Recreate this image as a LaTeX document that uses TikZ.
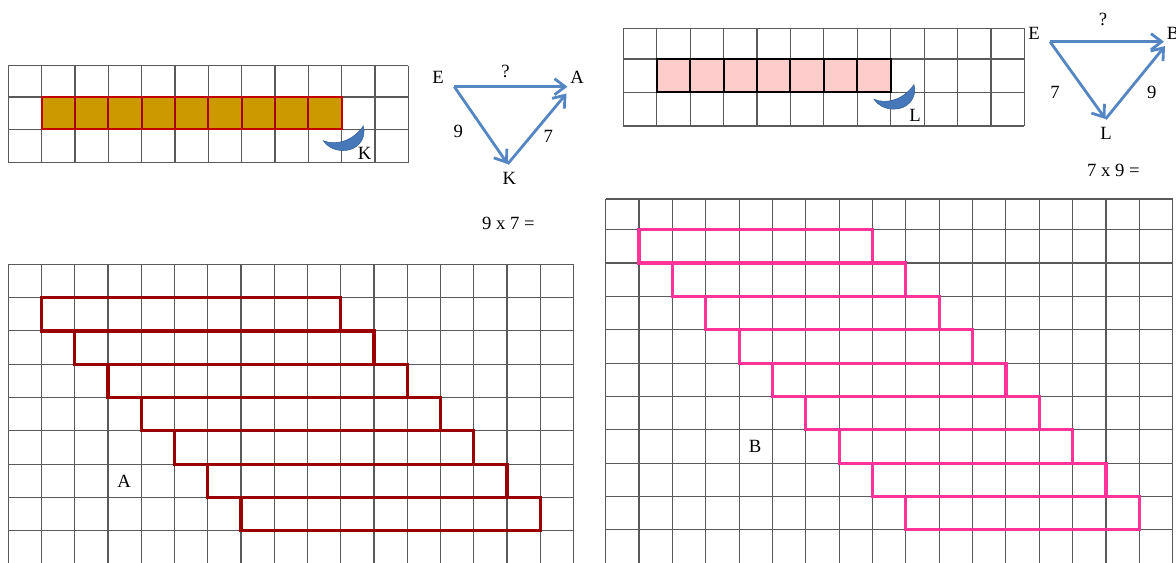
\documentclass[tikz,border=0pt]{standalone}
\usepackage{fontspec}
\setmainfont{Liberation Serif}
\usetikzlibrary{arrows.meta}
\definecolor{gridc}{RGB}{90,90,90}
\definecolor{goldf}{RGB}{204,153,0}
\definecolor{redb}{RGB}{192,0,0}
\definecolor{redi}{RGB}{165,0,0}
\definecolor{pinkf}{RGB}{255,204,204}
\definecolor{darkred}{RGB}{155,0,0}
\definecolor{hotpink}{RGB}{255,51,153}
\definecolor{arrowb}{RGB}{84,134,196}
\definecolor{moon}{RGB}{70,120,185}
\definecolor{moonedge}{RGB}{50,95,155}
\tikzset{
  gridline/.style={draw=gridc, line width=0.85pt},
  goldcell/.style={fill=goldf, draw=redi, line width=1.6pt},
  pinkcell/.style={fill=pinkf, draw=black, line width=1.5pt},
  stairA/.style={draw=darkred, line width=2.4pt},
  stairB/.style={draw=hotpink, line width=2.4pt},
  tarrow/.style={draw=arrowb, line width=2.1pt, -{Straight Barb[length=8pt,width=12pt,line width=2.1pt]}},
  lbl/.style={font=\fontsize{14}{16}\selectfont, inner sep=0pt},
  moonshape/.style={fill=moon, draw=moonedge, line width=0.4pt}
}
\begin{document}
\begin{tikzpicture}[x=0.75pt,y=-0.75pt]
\useasboundingbox (0,0) rectangle (1176,563);
\fill[white] (0,0) rectangle (1176,563);

% ---------- top-left grid ----------
\foreach \i in {0,...,12} \draw[gridline] (8.3+\i*33.33,65.7) -- (8.3+\i*33.33,162.6);
\foreach \y in {65.7,97,129.3,162.6} \draw[gridline] (8.3,\y) -- (408.3,\y);
\foreach \i in {1,...,9} \draw[goldcell] (8.3+\i*33.33,97) rectangle (8.3+\i*33.33+33.33,129.3);
\draw[redb, line width=1.6pt] (41.63,97) rectangle (341.6,129.3);
% crescent K
\path[moonshape] (323.3,140.7) .. controls (336,146) and (353,141) .. (363.3,126)
  .. controls (367,140) and (356,151) .. (343,150.5)
  .. controls (334,150.5) and (327,146.5) .. cycle;
\node[lbl] (K1lab) at (364.5,153.5) {K};

% ---------- triangle 1 ----------
\node[lbl] (E1) at (438,77.5) {E};
\node[lbl] (A1) at (577,77.5) {A};
\node[lbl] (K1) at (509.3,178) {K};
\node[lbl] (q1) at (505.5,71) {?};
\node[lbl] (n91) at (458.3,131.5) {9};
\node[lbl] (n71) at (548.3,136) {7};
\node[lbl] (eq1) at (508.3,223.3) {9 x 7 =};
\coordinate (e1) at (454.3,86.7);
\coordinate (a1) at (567.5,86.7);
\coordinate (k1) at (507.7,164);
\coordinate (a1b) at (566.5,93.5);
\draw[tarrow] (e1) -- (a1);
\draw[tarrow] (e1) -- (k1);
\draw[tarrow] (k1) -- (a1b);

% ---------- top-right grid ----------
\foreach \i in {0,...,12} \draw[gridline] (623.3+\i*33.42,28.3) -- (623.3+\i*33.42,126);
\foreach \y in {28.3,59,92.3,126} \draw[gridline] (623.3,\y) -- (1024.3,\y);
\foreach \i in {1,...,7} \draw[pinkcell] (623.3+\i*33.42,59) rectangle (623.3+\i*33.42+33.42,92.3);
% crescent L
\begin{scope}[shift={(550.7,-41.4)}]
\path[moonshape] (323.3,140.7) .. controls (336,146) and (353,141) .. (363.3,126)
  .. controls (367,140) and (356,151) .. (343,150.5)
  .. controls (334,150.5) and (327,146.5) .. cycle;
\end{scope}
\node[lbl] (L2lab) at (915,115) {L};

% ---------- triangle 2 ----------
\node[lbl] (E2) at (1034,33.3) {E};
\node[lbl] (B2) at (1173,33.3) {B};
\node[lbl] (L2) at (1106,133) {L};
\node[lbl] (q2) at (1103,19) {?};
\node[lbl] (n72) at (1055,92.7) {7};
\node[lbl] (n92) at (1151.7,92.7) {9};
\node[lbl] (eq2) at (1113.3,170) {7 x 9 =};
\coordinate (e2) at (1050,41.7);
\coordinate (b2) at (1164,41.7);
\coordinate (l2) at (1105.5,119);
\coordinate (b2b) at (1165,46);
\draw[tarrow] (e2) -- (b2);
\draw[tarrow] (e2) -- (l2);
\draw[tarrow] (l2) -- (b2b);

% ---------- bottom-left grid ----------
\foreach \i in {0,...,17} \draw[gridline] (8.3+\i*33.25,264.3) -- (8.3+\i*33.25,564);
\foreach \j in {0,...,8} \draw[gridline] (8.3,264.3+\j*33.3) -- (573.55,264.3+\j*33.3);
\foreach \i in {1,...,7} \draw[stairA] (8.3+\i*33.25,264.3+\i*33.3) rectangle ++(9*33.25,33.3);
\node[lbl] (Alab) at (124,481.5) {A};

% ---------- bottom-right grid ----------
\foreach \i in {0,...,17} \draw[gridline] (605.7+\i*33.35,199) -- (605.7+\i*33.35,564);
\draw[gridline] (605.7,199) -- (1172.65,199);
\foreach \j in {0,...,9} \draw[gridline] (605.7,229.7+\j*33.35) -- (1172.65,229.7+\j*33.35);
\foreach \i in {1,...,9} \draw[stairB] (605.7+\i*33.35,229.7+\i*33.35-33.35) rectangle ++(7*33.35,33.35);
\node[lbl] (Blab) at (755,446.7) {B};
\end{tikzpicture}
\end{document}
